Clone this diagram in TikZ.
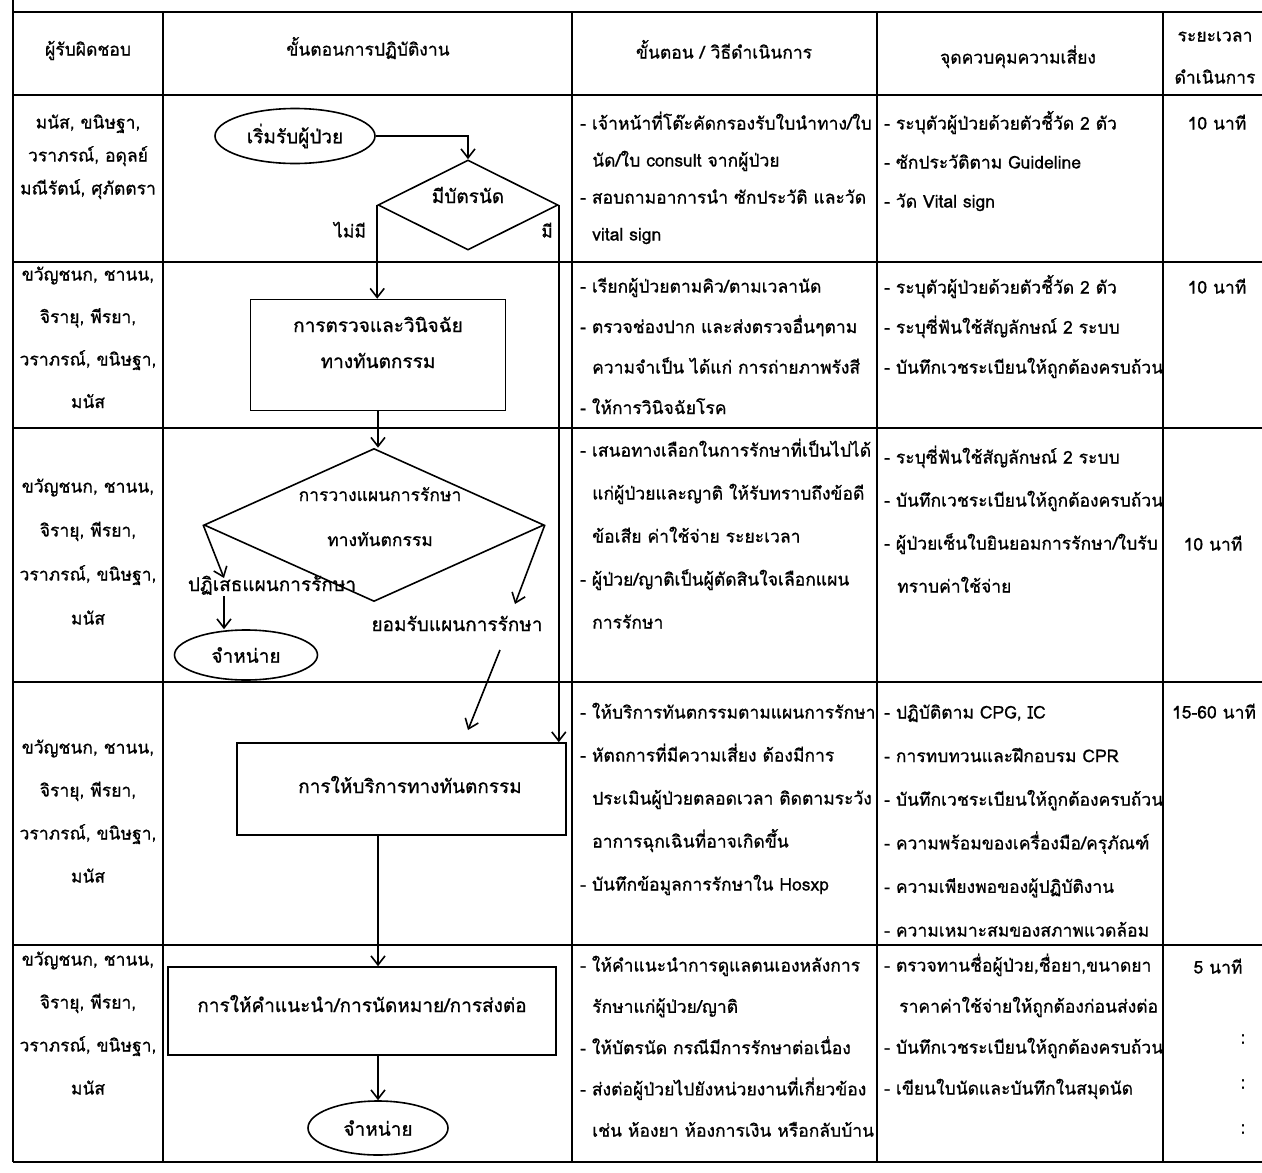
\documentclass[tikz,border=0pt]{standalone}
\usepackage{fontspec}
\setmainfont[Script=Thai, FakeBold=0.8]{Loma}
\usetikzlibrary{shapes.geometric,arrows.meta,calc}

% one text node per line: [anchor]{name}{x}{first y}{line step}{indent/line, ...}
\newcommand\celltext[6][west]{%
  \foreach \d/\t [count=\i] in {#6} {
    \node[txt, anchor=#1] (#2-\i) at ({#3+\d}, {#4+(\i-1)*#5}) {\t};
  }%
}

\begin{document}
\begin{tikzpicture}[x=1pt,y=-1pt,
  rule/.style={line width=1.8pt},
  flow/.style={line width=1.6pt},
  arr/.style={flow,-{Straight Barb[length=9pt,width=14pt]}},
  txt/.style={inner sep=0pt, text height=12pt, text depth=5pt,
              font=\fontsize{17.5}{19}\selectfont},
  lbl/.style={inner sep=0pt, align=center, text height=13pt, text depth=5pt,
              font=\fontsize{19}{21}\selectfont},
  dlbl/.style={lbl, font=\fontsize{17.5}{19}\selectfont},
  procbox/.style={draw, flow, rectangle, inner sep=0pt},
  decbox/.style={draw, flow, diamond, inner sep=0pt, aspect=2},
  termbox/.style={draw, flow, ellipse, inner sep=0pt,
              font=\fontsize{19}{21}\selectfont}
]
\useasboundingbox (0,0) rectangle (1262,1173);
\fill[white] (0,0) rectangle (1262,1173);

% ---------- table grid ----------
\foreach \y in {12,95,262,428,682,945,1162}
  \draw[rule] (13,\y) -- (1262,\y);
\draw[rule] (13,0) -- (13,1162);
\foreach \x in {163,572,877,1163}
  \draw[rule] (\x,12) -- (\x,1162);

% ---------- header ----------
\node[txt] (h1) at (88,52) {ผู้รับผิดชอบ};
\node[txt] (h2) at (368,52) {ขั้นตอนการปฏิบัติงาน};
\node[txt] (h3) at (724,55) {ขั้นตอน / วิธีดำเนินการ};
\node[txt] (h4) at (1018,60) {จุดควบคุมความเสี่ยง};
\node[txt] (h5a) at (1215,38) {ระยะเวลา};
\node[txt] (h5b) at (1215,80) {ดำเนินการ};

% ---------- responsible staff ----------
\celltext[center]{p1}{88}{125}{33}{0/{มนัส, ขนิษฐา,},0/{วราภรณ์, อดุลย์},0/{มณีรัตน์, ศุภัตตรา}}
\celltext[center]{p2}{88}{277}{42.5}{0/{ขวัญชนก, ชานน,},0/{จิรายุ, พีรยา,},0/{วราภรณ์, ขนิษฐา,},0/{มนัส}}
\celltext[center]{p3}{88}{489}{44}{0/{ขวัญชนก, ชานน,},0/{จิรายุ, พีรยา,},0/{วราภรณ์, ขนิษฐา,},0/{มนัส}}
\celltext[center]{p4}{88}{750}{43}{0/{ขวัญชนก, ชานน,},0/{จิรายุ, พีรยา,},0/{วราภรณ์, ขนิษฐา,},0/{มนัส}}
\celltext[center]{p5}{88}{962}{43}{0/{ขวัญชนก, ชานน,},0/{จิรายุ, พีรยา,},0/{วราภรณ์, ขนิษฐา,},0/{มนัส}}

% ---------- methods ----------
\celltext{m1}{580}{126}{37}{0/{- เจ้าหน้าที่โต๊ะคัดกรองรับใบนำทาง/ใบ},12/{นัด/ใบ consult จากผู้ป่วย},0/{- สอบถามอาการนำ ซักประวัติ และวัด},12/{vital sign}}
\celltext{m2}{580}{289}{40.5}{0/{- เรียกผู้ป่วยตามคิว/ตามเวลานัด},0/{- ตรวจช่องปาก และส่งตรวจอื่นๆตาม},12/{ความจำเป็น ได้แก่ การถ่ายภาพรังสี},0/{- ให้การวินิจฉัยโรค}}
\celltext{m3}{580}{453}{43}{0/{- เสนอทางเลือกในการรักษาที่เป็นไปได้},12/{แก่ผู้ป่วยและญาติ ให้รับทราบถึงข้อดี},12/{ข้อเสีย ค่าใช้จ่าย ระยะเวลา},0/{- ผู้ป่วย/ญาติเป็นผู้ตัดสินใจเลือกแผน},12/{การรักษา}}
\celltext{m4}{580}{715}{43}{0/{- ให้บริการทันตกรรมตามแผนการรักษา},0/{- หัตถการที่มีความเสี่ยง ต้องมีการ},12/{ประเมินผู้ป่วยตลอดเวลา ติดตามระวัง},12/{อาการฉุกเฉินที่อาจเกิดขึ้น},0/{- บันทึกข้อมูลการรักษาใน Hosxp}}
\celltext{m5}{580}{968}{41.3}{0/{- ให้คำแนะนำการดูแลตนเองหลังการ},12/{รักษาแก่ผู้ป่วย/ญาติ},0/{- ให้บัตรนัด กรณีมีการรักษาต่อเนื่อง},0/{- ส่งต่อผู้ป่วยไปยังหน่วยงานที่เกี่ยวข้อง},12/{เช่น ห้องยา ห้องการเงิน หรือกลับบ้าน}}

% ---------- risk control points ----------
\celltext{k1}{884}{126}{39}{0/{- ระบุตัวผู้ป่วยด้วยตัวชี้วัด 2 ตัว},0/{- ซักประวัติตาม Guideline},0/{- วัด Vital sign}}
\celltext{k2}{884}{290}{40}{0/{- ระบุตัวผู้ป่วยด้วยตัวชี้วัด 2 ตัว},0/{- ระบุซี่ฟันใช้สัญลักษณ์ 2 ระบบ},0/{- บันทึกเวชระเบียนให้ถูกต้องครบถ้วน}}
\celltext{k3}{884}{460}{43}{0/{- ระบุซี่ฟันใช้สัญลักษณ์ 2 ระบบ},0/{- บันทึกเวชระเบียนให้ถูกต้องครบถ้วน},0/{- ผู้ป่วยเซ็นใบยินยอมการรักษา/ใบรับ},13/{ทราบค่าใช้จ่าย}}
\celltext{k4}{884}{715}{43.6}{0/{- ปฏิบัติตาม CPG, IC},0/{- การทบทวนและฝึกอบรม CPR},0/{- บันทึกเวชระเบียนให้ถูกต้องครบถ้วน},0/{- ความพร้อมของเครื่องมือ/ครุภัณฑ์},0/{- ความเพียงพอของผู้ปฏิบัติงาน},0/{- ความเหมาะสมของสภาพแวดล้อม}}
\celltext{k5}{884}{968}{41}{0/{- ตรวจทานชื่อผู้ป่วย,ชื่อยา,ขนาดยา},15/{ราคาค่าใช้จ่ายให้ถูกต้องก่อนส่งต่อ},0/{- บันทึกเวชระเบียนให้ถูกต้องครบถ้วน},0/{- เขียนใบนัดและบันทึกในสมุดนัด}}

% ---------- durations ----------
\node[txt] (t1) at (1217,126) {10 นาที};
\node[txt] (t2) at (1217,290) {10 นาที};
\node[txt] (t3) at (1213,547) {10 นาที};
\node[txt] (t4) at (1214,715) {15-60 นาที};
\node[txt] (t5) at (1218,970) {5 นาที};
\node[txt] (c1) at (1243,1040) {:};
\node[txt] (c2) at (1243,1085) {:};
\node[txt] (c3) at (1243,1130) {:};

% ---------- flowchart ----------
\node[termbox, minimum width=160pt, minimum height=55pt] (start) at (295,136) {เริ่มรับผู้ป่วย};
\node[decbox, minimum width=180pt, minimum height=90pt] (d1) at (468,205) {};
\node[lbl] (d1t) at (468,199) {มีบัตรนัด};
\node[txt] (no) at (350,234) {ไม่มี};
\node[txt] (yes) at (547,234) {มี};
\node[procbox, minimum width=255pt, minimum height=111pt] (exam) at (378,355) {};
\node[lbl] (examt1) at (378,328) {การตรวจและวินิจฉัย};
\node[lbl] (examt2) at (378,364) {ทางทันตกรรม};
\node[decbox, minimum width=340pt, minimum height=153pt] (plan) at (374,525) {};
\node[dlbl] (plant1) at (380,497) {การวางแผนการรักษา};
\node[dlbl] (plant2) at (380,542) {ทางทันตกรรม};
\node[lbl] (reject) at (272,587) {ปฏิเสธแผนการรักษา};
\node[termbox, minimum width=143pt, minimum height=50pt] (out1) at (246,655) {จำหน่าย};
\node[lbl] (accept) at (457,627) {ยอมรับแผนการรักษา};
\node[procbox, minimum width=329pt, minimum height=92pt] (treat) at (401.5,789) {};
\node[lbl] (treatt) at (410,789) {การให้บริการทางทันตกรรม};
\node[procbox, minimum width=388pt, minimum height=88pt] (advice) at (362,1011) {};
\node[lbl] (advicet) at (362,1008) {การให้คำแนะนำ/การนัดหมาย/การส่งต่อ};
\node[termbox, minimum width=140pt, minimum height=54pt] (out2) at (378,1128) {จำหน่าย};

\coordinate (rejtip) at (224,578);
\coordinate (acctip) at (515,604);
\coordinate (accfrom) at (500,650);
\coordinate (treattip) at (468,730);

\draw[arr] (start.east) -| (d1.north);
\draw[arr] (d1.west) -- (d1.west |- exam.north);
\draw[arr] (d1.east) -- (d1.east |- treat.north);
\draw[arr] (exam.south) -- (exam.south |- plan.north);
\draw[arr] (plan.west) -- (rejtip);
\draw[arr] (reject.south -| rejtip) -- (out1.north -| rejtip);
\draw[arr] (plan.east) -- (acctip);
\draw[arr] (accfrom) -- (treattip);
\draw[arr] (treat.south -| exam.south) -- (advice.north -| exam.south);
\draw[arr] (advice.south -| exam.south) -- (out2.north);
\end{tikzpicture}
\end{document}
